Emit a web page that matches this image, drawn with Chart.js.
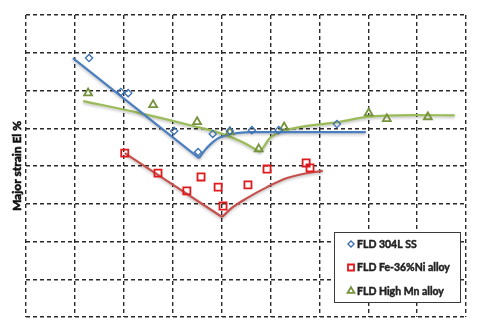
<!DOCTYPE html>
<html>
<head>
<meta charset="utf-8">
<script src="https://cdn.jsdelivr.net/npm/chart.js@4.4.1/dist/chart.umd.min.js"></script>
<style>
  html, body { margin: 0; padding: 0; background: #fff; }
  #wrap { width: 477px; height: 330px; }
</style>
</head>
<body>
<div id="wrap"><canvas id="fld" width="477" height="330"></canvas></div>
<script>
// ========== Data (minor strain %, major strain %) ==========
const seriesNames = ["FLD 304L SS", "FLD Fe-36%Ni alloy", "FLD High Mn alloy"];

// measured limit strains
const ssMinor = [-27.1, -20.6, -19.1, -9.7, -4.8, -1.8, 1.7, 6.2, 11.7, 23.6];
const ssMajor = [68.6, 59.6, 59.3, 49.3, 43.7, 48.5, 49.3, 49.5, 49.5, 51.1];

const niMinor = [-19.8, -13.0, -7.1, -4.2, -0.7, 0.3, 5.4, 9.3, 17.3, 18.1];
const niMajor = [43.4, 38.1, 33.4, 37.1, 34.4, 29.4, 35.0, 39.2, 40.8, 39.5];

const mnMinor = [-27.3, -14.0, -5.0, 1.7, 7.6, 12.8, 30.1, 33.8, 42.2];
const mnMajor = [59.3, 56.2, 51.7, 49.0, 44.5, 50.3, 54.0, 52.5, 53.0];

// fitted limit curves: left (drawing) branch and right (stretching) branch
const ssFitLeftX = [-30.4, -4.6];
const ssFitLeftY = [68.6, 42.1];
const ssFitRightX = [-4.6, -3.4, -2.4, -0.9, 0.3, 3.1, 6.4, 11.9, 29.5];
const ssFitRightY = [42.1, 44.2, 45.6, 47.2, 47.9, 48.7, 49.0, 49.0, 49.0];

const niFitLeftX = [-19.8, 0.1];
const niFitLeftY = [43.4, 26.5];
const niFitRightX = [0.1, 2.3, 5.2, 9.3, 13.4, 17.5, 20.7];
const niFitRightY = [26.5, 29.1, 31.5, 34.4, 36.8, 38.1, 38.7];

const mnFitLeftX = [-28.3, -16.7, -5.8, -0.3, 3.8, 7.9];
const mnFitLeftY = [57.2, 54.0, 50.6, 48.7, 46.6, 43.7];
const mnFitRightX = [7.9, 8.9, 9.9, 11.9, 16.0, 24.2, 29.7, 39.1, 47.7];
const mnFitRightY = [43.7, 45.6, 47.4, 49.0, 50.3, 51.7, 53.0, 53.5, 53.4];

// axis range (no tick labels shown, only the grid)
const minorMin = -40, minorMax = 50, minorStep = 10;
const majorMin = 0, majorMax = 80, majorStep = 10;

// ========== Styles ==========
const BLUE_MK = "#3b6fb2", BLUE_LN = "#4a7ebf";
const RED_MK = "#e0191c", RED_LN = "#c5504c";
const GREEN_MK = "#76923c", GREEN_LN = "#9bbb59";
const LABEL_FONT = "Lato";

const pts = (xs, ys) => xs.map((x, i) => ({ x, y: ys[i] }));

function markerSet(label, xs, ys, color, style, radius, bw) {
  return {
    label,
    data: pts(xs, ys),
    showLine: false,
    pointStyle: style,
    pointRadius: radius,
    pointBorderWidth: bw,
    pointBorderColor: color,
    pointBackgroundColor: "rgba(255,255,255,0)",
    borderColor: color,
  };
}

function fitSet(xs, ys, color) {
  return {
    data: pts(xs, ys),
    showLine: true,
    borderColor: color,
    borderWidth: 2.2,
    pointRadius: 0,
    cubicInterpolationMode: "monotone",
    fill: false,
    fit: true,
  };
}

const markerSets = [
  markerSet(seriesNames[0], ssMinor, ssMajor, BLUE_MK, "rectRot", 3.6, 1.3),
  markerSet(seriesNames[1], niMinor, niMajor, RED_MK, "rect", 5, 1.8),
  markerSet(seriesNames[2], mnMinor, mnMajor, GREEN_MK, "triangle", 4.6, 1.8),
];

// ========== Plugins ==========
// soft drop shadow under the fitted curves
const fitShadow = {
  id: "fitShadow",
  beforeDatasetDraw(chart, args) {
    if (!args.meta._dataset.fit) return;
    const ctx = chart.ctx;
    ctx.save();
    ctx.shadowColor = "rgba(0,0,0,0.28)";
    ctx.shadowBlur = 3;
    ctx.shadowOffsetY = 1.5;
  },
  afterDatasetDraw(chart, args) {
    if (!args.meta._dataset.fit) return;
    chart.ctx.restore();
  },
};

// heavy text: fill plus a thin stroke of the same colour
function boldText(ctx, text, x, y, width) {
  ctx.fillText(text, x, y);
  ctx.lineWidth = width;
  ctx.strokeText(text, x, y);
}

// rotated axis title on the left
const axisTitle = {
  id: "axisTitle",
  afterDraw(chart) {
    const { ctx, chartArea } = chart;
    ctx.save();
    ctx.translate(17, (chartArea.top + chartArea.bottom) / 2);
    ctx.rotate(-Math.PI / 2);
    ctx.font = "bold 12px " + LABEL_FONT;
    ctx.textAlign = "center";
    ctx.textBaseline = "middle";
    ctx.fillStyle = ctx.strokeStyle = "#111";
    boldText(ctx, "Major strain El %", 0, 0, 0.6);
    ctx.restore();
  },
};

// boxed legend sitting in the lower right of the plot
const legendBox = {
  id: "legendBox",
  afterDatasetsDraw(chart) {
    const { ctx, chartArea } = chart;
    const w = 126, h = 70;
    const x0 = chartArea.right - 132;
    const y0 = chartArea.bottom - 85;
    ctx.save();
    ctx.fillStyle = "#fff";
    ctx.fillRect(x0, y0, w, h);
    ctx.strokeStyle = "#3a3a3a";
    ctx.lineWidth = 1;
    ctx.strokeRect(x0 + 0.5, y0 + 0.5, w, h);

    ctx.font = "bold 10.5px " + LABEL_FONT;
    ctx.textBaseline = "middle";
    markerSets.forEach((ds, i) => {
      const cy = y0 + 12 + i * 23.5;
      ctx.strokeStyle = ds.pointBorderColor;
      ctx.fillStyle = "rgba(255,255,255,0)";
      ctx.lineWidth = ds.pointBorderWidth;
      Chart.helpers.drawPoint(ctx, {
        pointStyle: ds.pointStyle,
        radius: ds.pointRadius * 0.85,
        rotation: 0,
        borderWidth: ds.pointBorderWidth,
      }, x0 + 17, cy);
      ctx.fillStyle = ctx.strokeStyle = "#222";
      boldText(ctx, ds.label, x0 + 23, cy + 0.5, 0.45);
    });
    ctx.restore();
  },
};

// ========== Chart ==========
const gridLines = {
  color: "#2a2a2a",
  lineWidth: 1.4,
  drawTicks: false,
};

new Chart(document.getElementById("fld"), {
  type: "scatter",
  data: {
    datasets: [
      ...markerSets,
      fitSet(ssFitLeftX, ssFitLeftY, BLUE_LN),
      fitSet(ssFitRightX, ssFitRightY, BLUE_LN),
      fitSet(niFitLeftX, niFitLeftY, RED_LN),
      fitSet(niFitRightX, niFitRightY, RED_LN),
      fitSet(mnFitLeftX, mnFitLeftY, GREEN_LN),
      fitSet(mnFitRightX, mnFitRightY, GREEN_LN),
    ],
  },
  options: {
    responsive: false,
    animation: false,
    layout: { padding: { left: 26, top: 15, right: 11, bottom: 13 } },
    plugins: {
      legend: { display: false },
      tooltip: { enabled: false },
    },
    scales: {
      x: {
        type: "linear",
        min: minorMin,
        max: minorMax,
        ticks: { display: false, stepSize: minorStep },
        grid: gridLines,
        border: { display: false, dash: [4, 3] },
      },
      y: {
        type: "linear",
        min: majorMin,
        max: majorMax,
        ticks: { display: false, stepSize: majorStep },
        grid: gridLines,
        border: { display: false, dash: [4, 3] },
      },
    },
  },
  plugins: [fitShadow, axisTitle, legendBox],
});
</script>
</body>
</html>
